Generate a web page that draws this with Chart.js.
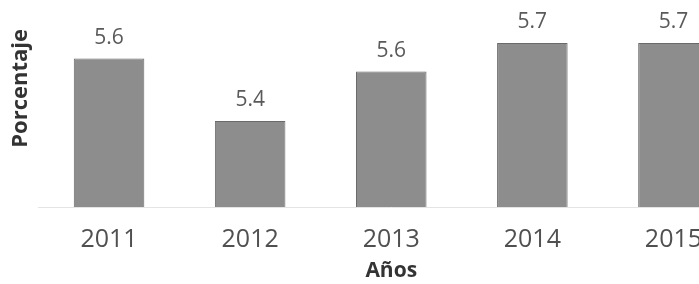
<!DOCTYPE html>
<html>
<head>
<meta charset="utf-8">
<script src="https://cdn.jsdelivr.net/npm/chart.js@4/dist/chart.umd.min.js"></script>
<style>
  html, body { margin: 0; padding: 0; background: #fff; overflow: hidden; width: 699px; height: 284px; }
  #wrap { width: 744px; height: 284px; position: relative; }
</style>
</head>
<body>
<div id="wrap"><canvas id="c" width="744" height="284"></canvas></div>
<script>
const categories = ['2011', '2012', '2013', '2014', '2015'];
const values = [5.64, 5.4, 5.59, 5.7, 5.7];
const yTitle = 'Porcentaje';
const xTitle = 'Años';

const valueLabels = {
  id: 'valueLabels',
  afterDatasetsDraw(chart) {
    const ctx = chart.ctx;
    const meta = chart.getDatasetMeta(0);
    ctx.save();
    ctx.font = '21px "Open Sans"';
    ctx.fillStyle = '#5a5a5a';
    ctx.textAlign = 'center';
    ctx.textBaseline = 'middle';
    meta.data.forEach((bar, i) => {
      ctx.fillText(values[i].toFixed(1), bar.x, bar.y - 21);
    });
    ctx.restore();
  }
};

new Chart(document.getElementById('c'), {
  type: 'bar',
  data: {
    labels: categories,
    datasets: [{
      data: values,
      backgroundColor: '#8d8d8d',
      borderColor: '#6a6a6a',
      borderWidth: 1,
      categoryPercentage: 1,
      barPercentage: 0.5
    }]
  },
  options: {
    responsive: false,
    animation: false,
    layout: { padding: { top: 29, left: 0, right: 0, bottom: 0 } },
    plugins: { legend: { display: false }, tooltip: { enabled: false } },
    scales: {
      x: {
        grid: { display: false, drawTicks: false },
        border: { display: true, color: '#e4e4e4' },
        ticks: { font: { family: 'Open Sans', size: 25 }, color: '#505050', padding: 18 },
        title: { display: true, text: xTitle, font: { family: 'Open Sans', size: 21, weight: 'bold' }, color: '#333', padding: { top: -14.6, bottom: 0.4 } }
      },
      y: {
        min: 5.069,
        max: 5.754,
        grid: { display: false, drawTicks: false },
        border: { display: false },
        ticks: { display: false },
        title: { display: true, text: yTitle, align: 'end', font: { family: 'Open Sans', size: 22, weight: 'bold' }, color: '#333', padding: { top: 7.8, bottom: 4.3 } }
      }
    }
  },
  plugins: [valueLabels]
});
</script>
</body>
</html>
